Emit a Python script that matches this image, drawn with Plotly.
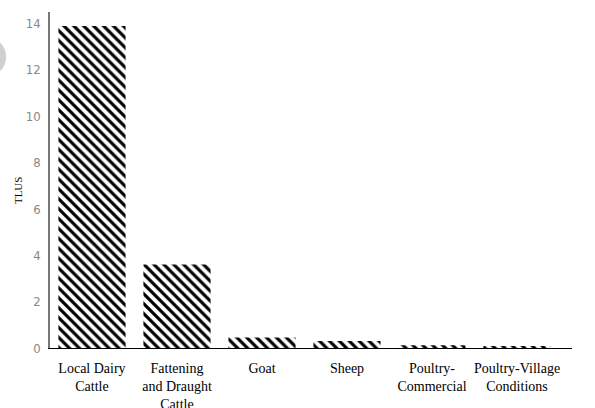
import plotly.graph_objects as go

categories = ["Local Dairy<br>Cattle", "Fattening<br>and Draught<br>Cattle", "Goat", "Sheep",
              "Poultry-<br>Commercial", "Poultry-Village<br>Conditions"]
tlus = [13.9, 3.6, 0.45, 0.3, 0.12, 0.08]
y_ticks = [0, 2, 4, 6, 8, 10, 12, 14]

fig = go.Figure()
fig.add_trace(go.Bar(
    x=categories, y=tlus, width=0.79,
    marker=dict(color="white", line=dict(width=0),
                pattern=dict(shape="\\", fgcolor="black", bgcolor="white", fgopacity=1,
                             size=7, solidity=0.45)),
))

fig.add_shape(type="circle", xref="paper", yref="paper", x0=-0.16, x1=-0.084, y0=0.807, y1=0.926,
              fillcolor="#d0d0d0", line=dict(width=0), layer="below")

fig.add_annotation(text="TLUS", xref="paper", yref="paper", x=-0.0613, y=0.47, textangle=-90,
                   showarrow=False, xanchor="center", yanchor="middle",
                   font=dict(family="Liberation Serif, Times New Roman, serif", size=11, color="black"))

fig.update_layout(
    width=595, height=408,
    margin=dict(l=50, r=23, t=12, b=60),
    paper_bgcolor="white", plot_bgcolor="white",
    showlegend=False,
    xaxis=dict(range=[-0.494, 5.647], showline=True, linecolor="black", linewidth=1.2,
               showgrid=False, ticks="", zeroline=False, automargin=False, ticklabelstandoff=7,
               tickfont=dict(family="Liberation Serif, Times New Roman, serif", size=14, color="black")),
    yaxis=dict(range=[0, 14.5], tickvals=y_ticks, showline=True, linecolor="#777777", linewidth=1.5,
               showgrid=False, ticks="", zeroline=False, ticklabelstandoff=5, automargin=False,
               tickfont=dict(family="DejaVu Sans Condensed, DejaVu Sans, sans-serif", size=13, color="#888888")),
)

fig.write_html("out.html", config={"displayModeBar": False},
               post_script="document.body.style.margin='0';document.body.style.padding='0';")
